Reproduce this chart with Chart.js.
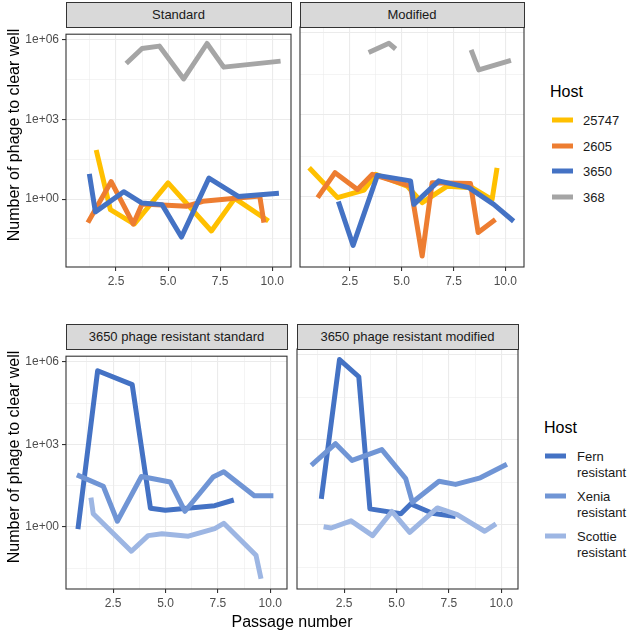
<!DOCTYPE html>
<html><head><meta charset="utf-8">
<script src="https://cdn.jsdelivr.net/npm/chart.js@4/dist/chart.umd.min.js"></script>
<style>
body{margin:0;background:#fff;width:628px;height:633px;position:relative;overflow:hidden;font-family:"Liberation Sans",Arial,sans-serif;}
canvas{position:absolute;}
.strip{position:absolute;background:#D9D9D9;border:1.1px solid #333;box-sizing:border-box;text-align:center;font-size:13px;color:#1A1A1A;display:flex;align-items:center;justify-content:center;white-space:nowrap;}
.ytitle{position:absolute;transform:translate(-50%,-50%) rotate(-90deg);white-space:nowrap;font-size:16px;color:#000;}
.xtitle{position:absolute;transform:translate(-50%,-50%);white-space:nowrap;font-size:16px;color:#000;}
.lgtitle{position:absolute;font-size:16px;color:#000;transform:translateY(-50%);}
.key{position:absolute;width:21px;height:5px;transform:translateY(-50%);}
.lab{position:absolute;font-size:13px;color:#1A1A1A;transform:translateY(-50%);white-space:nowrap;line-height:15px;}
</style></head><body>
<div id="root"></div>
<script>
// ---------- data ----------
const facetTop = ['Standard', 'Modified'];
const facetBottom = ['3650 phage resistant standard', '3650 phage resistant modified'];
const hostsTop = ['25747', '2605', '3650', '368'];
const hostsBottom = [['Fern', 'resistant'], ['Xenia', 'resistant'], ['Scottie', 'resistant']];
const yTickValues = [1, 1e3, 1e6];
const yTickLabels = ['1e+00', '1e+03', '1e+06'];
const xTickValues = [2.5, 5, 7.5, 10];
const xTickLabels = ['2.5', '5.0', '7.5', '10.0'];
const yAxisTitle = 'Number of phage to clear well';
const xAxisTitle = 'Passage number';
const legendTitle = 'Host';

// Standard
const s25747X = [1.55, 2.23, 3.38, 5.0, 7.08, 8.2, 9.82];
const s25747Y = [71, 0.4, 0.115, 4.1, 0.063, 1.07, 0.15];
const s2605X = [1.15, 2.27, 3.33, 3.75, 5.9, 6.67, 9.4, 9.6];
const s2605Y = [0.13, 4.6, 0.115, 0.66, 0.54, 0.83, 1.3, 0.13];
const s3650X = [1.22, 1.51, 2.87, 3.75, 4.71, 5.64, 6.96, 8.37, 10.32];
const s3650Y = [8.9, 0.33, 1.9, 0.71, 0.62, 0.037, 6.2, 1.26, 1.66];
const s368X = [2.99, 3.75, 4.58, 5.75, 6.87, 7.67, 10.4];
const s368Y = [1.3e5, 4.8e5, 5.9e5, 3.4e4, 7.4e5, 9.5e4, 1.6e5];
// Modified
const m25747X = [0.54, 1.91, 3.19, 3.75, 5.27, 5.99, 7.20, 8.40, 9.36, 9.6];
const m25747Y = [11.7, 0.95, 1.8, 6.8, 2.5, 0.62, 2.5, 2.2, 0.81, 11.7];
const m2605X = [0.95, 1.79, 2.87, 3.59, 5.43, 5.99, 6.47, 8.32, 8.69, 9.52];
const m2605Y = [0.95, 7.8, 1.9, 6.8, 2.5, 0.0069, 3.3, 3.1, 0.05, 0.15];
const m3650X = [1.95, 2.66, 3.83, 5.43, 5.59, 6.79, 8.24, 9.44, 10.4];
const m3650Y = [0.69, 0.017, 6.2, 3.9, 0.54, 3.9, 2.2, 0.54, 0.13];
const m368X = [3.41, 4.39, 4.71, 6.5, 8.35, 8.72, 10.27];
const m368Y = [1.95e5, 4.2e5, 2.6e5, null, 2.4e5, 4.5e4, 1.0e5];
// 3650 phage resistant standard
const rsFernX = [0.82, 1.76, 3.41, 4.28, 4.99, 7.35, 8.26];
const rsFernY = [0.83, 4.8e5, 1.5e5, 4.8, 4.0, 5.9, 9.5];
const rsXeniaX = [0.77, 2.03, 2.70, 3.85, 5.22, 5.93, 7.27, 7.78, 9.24, 10.15];
const rsXeniaY = [78, 30, 1.6, 68, 43, 3.7, 65, 102, 13.5, 13.5];
const rsScottieX = [1.44, 1.55, 3.37, 4.17, 4.83, 6.09, 7.35, 7.78, 9.32, 9.56];
const rsScottieY = [11.7, 3.0, 0.13, 0.48, 0.56, 0.46, 0.87, 1.35, 0.093, 0.013];
// 3650 phage resistant modified
const rmFernX = [1.41, 2.28, 3.20, 3.73, 5.21, 5.68, 6.71, 7.82];
const rmFernY = [8.3, 6.9e5, 1.7e5, 3.7, 2.5, 5.5, 2.6, 2.0];
const rmXeniaX = [0.93, 2.09, 2.88, 4.30, 5.44, 5.76, 7.03, 7.82, 9.0, 10.27];
const rmXeniaY = [126, 740, 190, 457, 43, 6.3, 35, 27, 46, 138];
const rmScottieX = [1.52, 1.88, 2.83, 3.86, 4.78, 5.63, 6.95, 7.90, 9.21, 9.75];
const rmScottieY = [0.87, 0.78, 1.4, 0.42, 3.0, 0.55, 4.0, 2.3, 0.6, 1.1];

// ---------- style ----------
const colorsTop = ['#FFC000', '#ED7D31', '#4472C4', '#A5A5A5'];
const colorsBottom = ['#4472C4', '#7095D5', '#9DB6E3'];
const xMinor = [1.25, 3.75, 6.25, 8.75];
const yMinor = [Math.pow(10, -1.5), Math.pow(10, 1.5), Math.pow(10, 4.5)];

Chart.defaults.font.family = '"Liberation Sans", Arial, sans-serif';
Chart.defaults.font.size = 12;
Chart.defaults.color = '#4D4D4D';

const root = document.getElementById('root');
function el(cls, text, css) {
  const d = document.createElement('div');
  d.className = cls;
  if (text !== null) d.textContent = text;
  Object.assign(d.style, css);
  root.appendChild(d);
  return d;
}

const panelBorder = {
  id: 'panelBorder',
  afterDraw(chart) {
    const { ctx, chartArea: a } = chart;
    ctx.save();
    ctx.strokeStyle = '#333333';
    ctx.lineWidth = 1.1;
    ctx.strokeRect(a.left, a.top, a.right - a.left, a.bottom - a.top);
    ctx.restore();
  }
};

function isMajorX(v) { return xTickValues.some(t => Math.abs(t - v) < 1e-9); }
function isMajorY(v) { return yTickValues.some(t => Math.abs(Math.log10(t) - Math.log10(v)) < 1e-6); }

function mkDs(label, xs, ys, color, order) {
  return {
    label, order,
    data: xs.map((x, i) => ({ x: x, y: ys[i] })),
    borderColor: color, backgroundColor: color,
    borderWidth: 5, pointRadius: 0, fill: false, tension: 0,
    spanGaps: false, borderCapStyle: 'butt', borderJoinStyle: 'round', clip: 0
  };
}

function panel(geom, xRange, yRange, datasets, showY) {
  const c = document.createElement('canvas');
  root.appendChild(c);
  const padT = 3, padR = 3, xH = 30;
  const padL = showY ? 0 : 3;
  const yW = showY ? geom.left : 0;
  c.width = (showY ? geom.left : padL) + geom.w + padR;
  c.height = padT + geom.h + xH;
  c.style.left = (showY ? 0 : geom.left - padL) + 'px';
  c.style.top = (geom.top - padT) + 'px';
  new Chart(c, {
    type: 'line',
    data: { datasets },
    options: {
      responsive: false, animation: false, events: [],
      layout: { padding: { left: padL, top: padT, right: padR, bottom: 0 } },
      plugins: { legend: { display: false }, tooltip: { enabled: false } },
      scales: {
        x: {
          type: 'linear', min: xRange[0], max: xRange[1],
          afterBuildTicks: s => { s.ticks = xTickValues.concat(xMinor).sort((a, b) => a - b).map(v => ({ value: v })); },
          afterFit: s => { s.height = xH; },
          ticks: {
            autoSkip: false, maxRotation: 0, minRotation: 0, padding: 3, color: '#4D4D4D', font: { size: 12 },
            callback: v => { const i = xTickValues.findIndex(t => Math.abs(t - v) < 1e-9); return i >= 0 ? xTickLabels[i] : ''; }
          },
          grid: {
            color: '#EBEBEB',
            lineWidth: ctx => (ctx.tick && isMajorX(ctx.tick.value)) ? 1.1 : 0.55,
            tickLength: 4,
            tickColor: ctx => (ctx.tick && isMajorX(ctx.tick.value)) ? '#333333' : 'rgba(0,0,0,0)',
            tickWidth: 1.1
          },
          border: { display: false }
        },
        y: {
          type: 'logarithmic', min: yRange[0], max: yRange[1],
          afterBuildTicks: s => { s.ticks = yMinor.concat(yTickValues).sort((a, b) => a - b).map(v => ({ value: v })); },
          afterFit: s => { s.width = yW; },
          ticks: {
            display: showY, autoSkip: false, padding: 3, color: '#4D4D4D', font: { size: 12 },
            callback: v => { const i = yTickValues.findIndex(t => Math.abs(Math.log10(t) - Math.log10(v)) < 1e-6); return i >= 0 ? yTickLabels[i] : ''; }
          },
          grid: {
            color: '#EBEBEB',
            lineWidth: ctx => (ctx.tick && isMajorY(ctx.tick.value)) ? 1.1 : 0.55,
            drawTicks: showY,
            tickLength: 4,
            tickColor: ctx => (ctx.tick && isMajorY(ctx.tick.value)) ? '#333333' : 'rgba(0,0,0,0)',
            tickWidth: 1.1
          },
          border: { display: false }
        }
      }
    },
    plugins: [panelBorder]
  });
}

// ---------- layout ----------
const topY = [Math.pow(10, -2.56), Math.pow(10, 6.22)];
const botY = [Math.pow(10, -2.26), Math.pow(10, 6.21)];
const topX = [0.1, 10.9];
const botX = [0.25, 10.8];

const gTL = { left: 66, top: 27, w: 225, h: 240 };
const gTR = { left: 300, top: 27, w: 224, h: 240 };
const gBL = { left: 66, top: 349, w: 221, h: 240 };
const gBR = { left: 297, top: 349, w: 221, h: 240 };

panel(gTL, topX, topY, [
  mkDs(hostsTop[0], s25747X, s25747Y, colorsTop[0], 4),
  mkDs(hostsTop[1], s2605X, s2605Y, colorsTop[1], 3),
  mkDs(hostsTop[2], s3650X, s3650Y, colorsTop[2], 2),
  mkDs(hostsTop[3], s368X, s368Y, colorsTop[3], 1)
], true);
panel(gTR, topX, topY, [
  mkDs(hostsTop[0], m25747X, m25747Y, colorsTop[0], 4),
  mkDs(hostsTop[1], m2605X, m2605Y, colorsTop[1], 3),
  mkDs(hostsTop[2], m3650X, m3650Y, colorsTop[2], 2),
  mkDs(hostsTop[3], m368X, m368Y, colorsTop[3], 1)
], false);
panel(gBL, botX, botY, [
  mkDs(hostsBottom[0].join(' '), rsFernX, rsFernY, colorsBottom[0], 3),
  mkDs(hostsBottom[1].join(' '), rsXeniaX, rsXeniaY, colorsBottom[1], 2),
  mkDs(hostsBottom[2].join(' '), rsScottieX, rsScottieY, colorsBottom[2], 1)
], true);
panel(gBR, botX, botY, [
  mkDs(hostsBottom[0].join(' '), rmFernX, rmFernY, colorsBottom[0], 3),
  mkDs(hostsBottom[1].join(' '), rmXeniaX, rmXeniaY, colorsBottom[1], 2),
  mkDs(hostsBottom[2].join(' '), rmScottieX, rmScottieY, colorsBottom[2], 1)
], false);

// strips
[[gTL, facetTop[0], 2], [gTR, facetTop[1], 2], [gBL, facetBottom[0], 324], [gBR, facetBottom[1], 324]].forEach(([g, t, y]) => {
  el('strip', t, { left: (g.left - 0.5) + 'px', top: y + 'px', width: (g.w + 1) + 'px', height: (g.top - y + 0.5) + 'px' });
});

// axis titles
el('ytitle', yAxisTitle, { left: '14px', top: '134.5px' });
el('ytitle', yAxisTitle, { left: '14px', top: '457px' });
el('xtitle', xAxisTitle, { left: '292px', top: '622px' });

// legends
el('lgtitle', legendTitle, { left: '550px', top: '92px' });
const topKeyY = [120, 146, 171, 197];
hostsTop.forEach((h, i) => {
  el('key', null, { left: '552px', top: topKeyY[i] + 'px', background: colorsTop[i] });
  el('lab', h, { left: '583px', top: topKeyY[i] + 'px' });
});
el('lgtitle', legendTitle, { left: '544px', top: '428px' });
const botKeyY = [456, 496, 536];
hostsBottom.forEach((h, i) => {
  el('key', null, { left: '545px', top: botKeyY[i] + 'px', background: colorsBottom[i] });
  el('lab', h[0], { left: '577px', top: botKeyY[i] + 'px' });
  el('lab', h[1], { left: '577px', top: (botKeyY[i] + 15.5) + 'px' });
});
</script>
</body></html>
